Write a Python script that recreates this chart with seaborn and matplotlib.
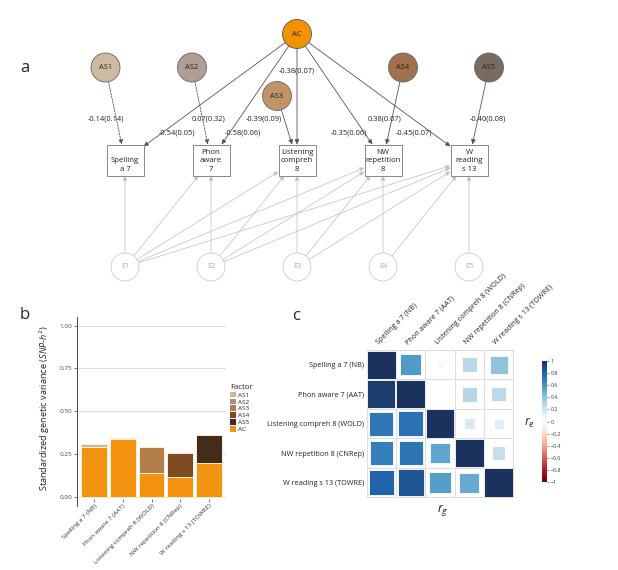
import numpy as np
import pandas as pd
import matplotlib
matplotlib.use("Agg")
import matplotlib.pyplot as plt
import seaborn as sns
from matplotlib.patches import Circle, Rectangle, FancyArrowPatch, Patch, ArrowStyle
from matplotlib.colors import LinearSegmentedColormap, Normalize
import matplotlib.cm as cm

# ---------------- data ----------------
box_labels = ["Spelling\na 7", "Phon\naware\n7", "Listening\ncompreh\n8",
              "NW\nrepetition\n8", "W\nreading\ns 13"]
tests = ["Spelling a 7 (NB)", "Phon aware 7 (AAT)", "Listening compreh 8 (WOLD)",
         "NW repetition 8 (CNRep)", "W reading s 13 (TOWRE)"]
specific = ["AS1", "AS2", "AS3", "AS4", "AS5"]
error_nodes = ["E1", "E2", "E3", "E4", "E5"]
factors = ["AS1", "AS2", "AS3", "AS4", "AS5", "AC"]

ac_est = [-0.54, -0.58, -0.38, -0.35, -0.45]
ac_se = [0.05, 0.06, 0.07, 0.06, 0.07]
as_est = [-0.14, 0.07, -0.39, 0.38, -0.40]
as_se = [0.14, 0.32, 0.09, 0.07, 0.08]
as_significant = [False, False, True, True, True]

ac_var = [0.29, 0.34, 0.14, 0.12, 0.20]
as_var = [0.02, 0.005, 0.15, 0.14, 0.16]

rg_matrix = [
    [1.00, 0.95, 0.71, 0.68, 0.80],
    [0.95, 1.00, 0.74, 0.72, 0.85],
    [0.71, 0.74, 1.00, 0.52, 0.55],
    [0.68, 0.72, 0.52, 1.00, 0.50],
    [0.80, 0.85, 0.55, 0.50, 1.00],
]
re_matrix = [
    [1.00, 0.57, 0.04, 0.27, 0.40],
    [0.57, 1.00, 0.00, 0.28, 0.26],
    [0.04, 0.00, 1.00, 0.16, 0.12],
    [0.27, 0.28, 0.16, 1.00, 0.23],
    [0.40, 0.26, 0.12, 0.23, 1.00],
]
cbar_ticks = [-1, -0.8, -0.6, -0.4, -0.2, 0, 0.2, 0.4, 0.6, 0.8, 1]

# ---------------- style ----------------
node_colors = {"AC": "#F39200", "AS1": "#CDBB9F", "AS2": "#B09D94", "AS3": "#C09466",
               "AS4": "#A0714C", "AS5": "#7B6A60"}
bar_colors = {"AS1": "#CBB89B", "AS2": "#A68F86", "AS3": "#B27F4A", "AS4": "#7E4B23",
              "AS5": "#452B19", "AC": "#F29310"}
corr_cols = ["#67001F", "#B2182B", "#D6604D", "#F4A582", "#FDDBC7", "#FFFFFF",
             "#D1E5F0", "#92C5DE", "#4393C3", "#2166AC", "#1B325F"]
cmap = LinearSegmentedColormap.from_list("corrRdBu", corr_cols, N=200)

sns.set_style("white")
plt.rcParams["font.family"] = ["Open Sans", "DejaVu Sans"]
plt.rcParams["mathtext.fontset"] = "custom"
plt.rcParams["mathtext.it"] = "Open Sans:italic"
plt.rcParams["mathtext.rm"] = "Open Sans"

W, H = 618, 570
fig = plt.figure(figsize=(W / 100, H / 100), dpi=100)

# ---------------- panel a: path diagram ----------------
axd = fig.add_axes([0, 0, 1, 1])
axd.set_xlim(0, W)
axd.set_ylim(H, 0)
axd.axis("off")

R = 14.5
ac_pos = (297, 34)
as_pos = [(105.5, 67.5), (192, 67.5), (277, 96), (403, 67.5), (489, 67.5)]
box_x = [125, 211, 297, 383, 469]
box_y = 160
hw, hh = 18.5, 15.5
e_y = 267
ac_lab_pos = [(177, 133), (243, 133), (297, 71), (349, 133), (414, 133)]
as_lab_pos = [(106, 119), (208, 119), (264, 119), (385, 119), (488, 119)]


def circ_exit(c, t, r):
    d = np.array(t, float) - np.array(c, float)
    return np.array(c, float) + r * d / np.hypot(*d)


def box_entry(b, s):
    d = np.array(s, float) - np.array(b, float)
    tt = min(hw / abs(d[0]) if d[0] != 0 else np.inf, hh / abs(d[1]) if d[1] != 0 else np.inf)
    return np.array(b, float) + tt * d


def arrow(p0, p1, color, lw, ls="-"):
    a = FancyArrowPatch(p0, p1, arrowstyle=ArrowStyle("-|>", head_length=0.28, head_width=0.13),
                        mutation_scale=10, color=color, lw=lw, linestyle=ls,
                        shrinkA=0, shrinkB=0, zorder=2)
    axd.add_patch(a)


# error arrows
for i in range(5):
    ec = (box_x[i], e_y)
    for j in range(i, 5):
        bc = (box_x[j], box_y)
        arrow(circ_exit(ec, bc, 14), box_entry(bc, ec), "#c4c4c4", 0.55)

# common factor arrows
for j in range(5):
    bc = (box_x[j], box_y)
    arrow(circ_exit(ac_pos, bc, R), box_entry(bc, ac_pos), "#555555", 0.6)
    axd.text(*ac_lab_pos[j], f"{ac_est[j]:.2f}({ac_se[j]:.2f})", ha="center", va="center",
             fontsize=5.4, color="#222222")
# specific factor arrows
for j in range(5):
    bc = (box_x[j], box_y)
    arrow(circ_exit(as_pos[j], bc, R), box_entry(bc, as_pos[j]), "#555555", 0.6,
          "-" if as_significant[j] else (0, (2, 1.5)))
    axd.text(*as_lab_pos[j], f"{as_est[j]:.2f}({as_se[j]:.2f})", ha="center", va="center",
             fontsize=5.4, color="#222222")

# nodes
axd.add_patch(Circle(ac_pos, R, facecolor=node_colors["AC"], edgecolor="#555555", lw=0.6, zorder=3))
axd.text(*ac_pos, "AC", ha="center", va="center", fontsize=5.4, color="#222222", zorder=4)
for j, name in enumerate(specific):
    axd.add_patch(Circle(as_pos[j], R, facecolor=node_colors[name], edgecolor="#666666", lw=0.6, zorder=3))
    axd.text(*as_pos[j], name, ha="center", va="center", fontsize=5.4, color="#222222", zorder=4)
for j in range(5):
    axd.add_patch(Rectangle((box_x[j] - hw, box_y - hh), 2 * hw, 2 * hh, facecolor="white",
                            edgecolor="#888888", lw=0.7, zorder=3))
    axd.text(box_x[j], box_y + hh - 2.5, box_labels[j], ha="center", va="bottom", fontsize=5.6,
             linespacing=1.3, color="#222222", zorder=4)
    axd.add_patch(Circle((box_x[j], e_y), 14, facecolor="white", edgecolor="#cccccc", lw=0.6, zorder=3))
    axd.text(box_x[j], e_y, error_nodes[j], ha="center", va="center", fontsize=5.2, color="#aaaaaa", zorder=4)

axd.text(24.5, 68, "a", ha="center", va="center", fontsize=12)
axd.text(25, 315, "b", ha="center", va="center", fontsize=12)
axd.text(296, 316, "c", ha="center", va="center", fontsize=12)

# ---------------- panel b: stacked bars ----------------
axb = fig.add_axes([77 / W, 1 - 499 / H, 149 / W, 182 / H])
totals = [a + s for a, s in zip(ac_var, as_var)]
df_tot = pd.DataFrame({"test": tests, "value": totals, "factor": specific})
df_ac = pd.DataFrame({"test": tests, "value": ac_var})
sns.barplot(data=df_tot, x="test", y="value", hue="factor", palette=bar_colors, dodge=False,
            order=tests, width=0.9, saturation=1, errorbar=None, legend=False,
            edgecolor="#fbefe0", linewidth=0.7, ax=axb, zorder=2)
sns.barplot(data=df_ac, x="test", y="value", color=bar_colors["AC"], order=tests, width=0.9,
            saturation=1, errorbar=None, edgecolor="#fbefe0", linewidth=0.7, ax=axb, zorder=3)
axb.set_xlim(-0.6, 4.6)
axb.set_ylim(-0.0106, 1.05)
axb.set_yticks([0, 0.25, 0.5, 0.75, 1.0])
axb.set_yticklabels(["0.00", "0.25", "0.50", "0.75", "1.00"], fontsize=4.6, color="#444444")
axb.set_xticks(range(5))
axb.set_xticklabels(tests, rotation=45, ha="right", rotation_mode="anchor", fontsize=4.5, color="#333333")
axb.yaxis.grid(True, color="#dddddd", lw=0.7, zorder=0)
axb.set_axisbelow(True)
axb.set_xlabel("")
axb.set_ylabel(r"Standardized genetic variance ($\mathit{SNP}$-$\mathit{h}^2$)", fontsize=6.6,
               color="#222222", labelpad=5)
for s in ["top", "right", "bottom"]:
    axb.spines[s].set_visible(False)
axb.spines["left"].set_color("#444444")
axb.spines["left"].set_linewidth(0.7)
axb.spines["left"].set_bounds(-0.05, 1.05)
axb.tick_params(axis="y", length=2, width=0.5, color="#444444", pad=1.5, left=True)
axb.tick_params(axis="x", length=2, width=0.5, color="#444444", pad=1.0, bottom=True)
handles = [Patch(facecolor=bar_colors[f], edgecolor="none", label=f) for f in factors]
leg = axb.legend(handles=handles, title="Factor", loc="upper left", bbox_to_anchor=(230 / W, 1 - 384 / H),
                 bbox_transform=fig.transFigure, frameon=False, fontsize=4.6, title_fontsize=5.6,
                 handlelength=0.9, handleheight=1.0, labelspacing=0.12, handletextpad=0.4,
                 borderpad=0, borderaxespad=0, alignment="left")

# ---------------- panel c: correlation plot ----------------
axc = fig.add_axes([366.7 / W, 1 - 497.3 / H, 146.6 / W, 147.3 / H])
rows = []
for i in range(5):
    for j in range(5):
        r = rg_matrix[i][j] if i > j else (re_matrix[i][j] if i < j else 1.0)
        rows.append({"row": i, "col": j, "r": r, "absr": abs(r)})
dfc = pd.DataFrame(rows)
cell_pt = 146.6 / 5 * 0.72
sns.scatterplot(data=dfc, x="col", y="row", hue="r", size="absr", palette=cmap, hue_norm=(-1, 1),
                size_norm=(0, 1), sizes=(0, (cell_pt * 0.97) ** 2), marker="s", legend=False,
                edgecolor="white", linewidth=0.6, ax=axc, zorder=3)
axc.set_xlim(-0.5, 4.5)
axc.set_ylim(4.5, -0.5)
for k in np.arange(0.5, 4.5, 1):
    axc.axhline(k, color="#dddddd", lw=0.8, zorder=1)
    axc.axvline(k, color="#dddddd", lw=0.8, zorder=1)
for s in axc.spines.values():
    s.set_color("#dddddd")
    s.set_linewidth(0.8)
axc.set_xticks([])
axc.set_yticks(range(5))
axc.set_yticklabels(tests, fontsize=5.2, color="#222222")
axc.tick_params(axis="y", length=0, pad=2)
axc.set_xlabel("")
axc.set_ylabel("")
for j, t in enumerate(tests):
    axc.text(j - 0.05, -0.62, t, rotation=45, ha="left", va="bottom", rotation_mode="anchor",
             fontsize=5.2, color="#222222")
axd.text(443, 510, r"$r_g$", ha="center", va="center", fontsize=9)
axd.text(530, 423, r"$r_e$", ha="center", va="center", fontsize=9)

cax = fig.add_axes([542 / W, 1 - 482 / H, 5 / W, 121 / H])
cb = fig.colorbar(cm.ScalarMappable(norm=Normalize(-1, 1), cmap=cmap), cax=cax, ticks=cbar_ticks)
cb.outline.set_visible(False)
cb.ax.set_yticklabels([f"{v:g}".replace("-", "\u2212") for v in cbar_ticks], fontsize=3.8, color="#333333")
cb.ax.tick_params(length=1.5, width=0.4, pad=1, color="#333333")

fig.savefig("out.png", dpi=100)
